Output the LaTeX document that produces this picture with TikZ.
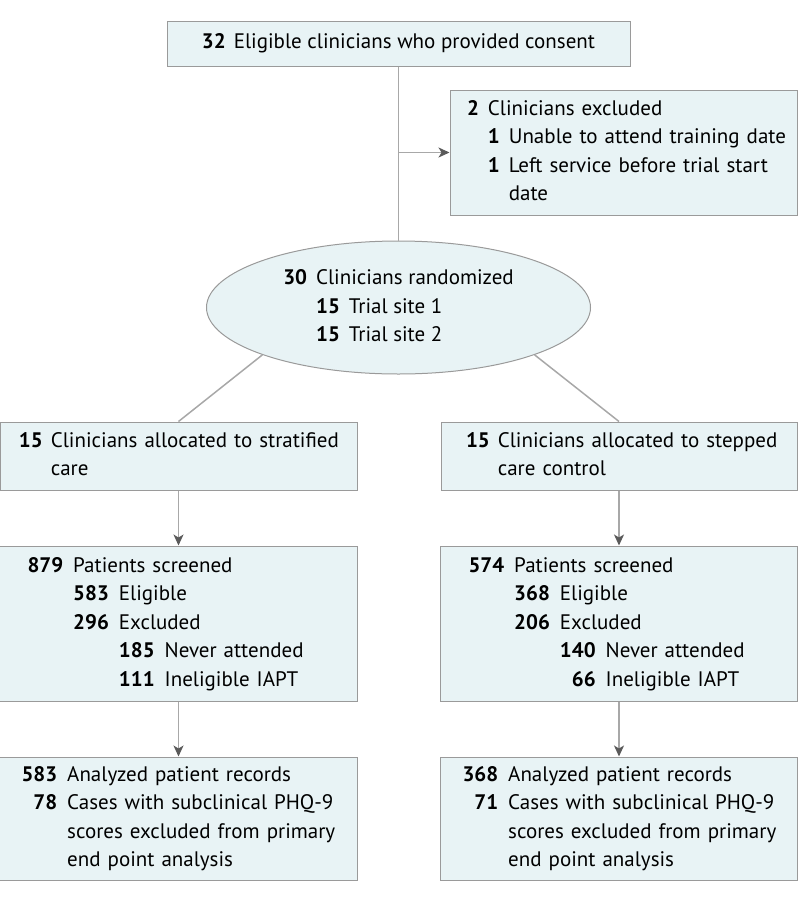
\documentclass[tikz,border=0pt]{standalone}
\usepackage{fontspec}
\setmainfont{PT Sans}
\usetikzlibrary{arrows.meta, positioning, shapes.geometric}

\definecolor{boxfill}{HTML}{E8F3F5}
\definecolor{boxline}{HTML}{9A9A9A}
\definecolor{linkgray}{HTML}{A8A8A8}
\definecolor{tipgray}{HTML}{5A5A5A}

\begin{document}
\begin{tikzpicture}[
    x=1pt, y=-1pt,
    font=\fontsize{21}{28.5}\selectfont,
    every node/.style={draw=boxline, fill=boxfill, line width=1pt},
    box/.style={rectangle, align=left, inner ysep=0pt},
    link/.style={draw=linkgray, line width=1.5pt},
    arrow/.style={link, -{Stealth[length=11pt, width=10pt, inset=3pt, color=tipgray]}}
]
\useasboundingbox (0,0) rectangle (798,900);

% Nodes
\node[box, minimum width=463pt, minimum height=45pt, align=center] (consent) at (398.5,43.5)
    {\textbf{32}\hspace{8pt}Eligible clinicians who provided consent};
\node[box, text width=313pt, inner xsep=17pt, minimum height=125pt] (excluded) at (623.5,152.5)
    {\begin{tabular}{@{}r@{\hspace{9pt}}r@{\hspace{9pt}}l@{}}
    \textbf{2} & \multicolumn{2}{@{}l@{}}{Clinicians excluded}\\
     & \textbf{1} & Unable to attend training date\\
     & \textbf{1} & Left service before trial start\\
     & & date
    \end{tabular}};
\node[ellipse, minimum width=384pt, minimum height=133pt, inner sep=0pt, below=174pt of consent] (rand)
    {\begin{tabular}{@{}r@{\hspace{9pt}}r@{\hspace{9pt}}l@{}}
    \textbf{30} & \multicolumn{2}{@{}l@{}}{Clinicians randomized}\\
     & \textbf{15} & Trial site 1\\
     & \textbf{15} & Trial site 2
    \end{tabular}};
\node[box, text width=319pt, inner xsep=19pt, minimum height=68pt] (strat) at (178.5,456)
    {\begin{tabular}{@{}r@{\hspace{8pt}}l@{}}
    \textbf{15} & Clinicians allocated to stratified\\
     & care
    \end{tabular}};
\node[box, text width=306pt, inner xsep=25pt, minimum height=68pt] (stepped) at (619,456)
    {\begin{tabular}{@{}r@{\hspace{8pt}}l@{}}
    \textbf{15} & Clinicians allocated to stepped\\
     & care control
    \end{tabular}};
\node[box, text width=302pt, inner xsep=28pt, minimum height=155pt, below=55pt of strat] (screenA)
    {\begin{tabular}{@{}r@{\hspace{10pt}}r@{\hspace{10pt}}r@{\hspace{10pt}}l@{}}
    \textbf{879} & \multicolumn{3}{@{}l@{}}{Patients screened}\\
     & \textbf{583} & \multicolumn{2}{@{}l@{}}{Eligible}\\
     & \textbf{296} & \multicolumn{2}{@{}l@{}}{Excluded}\\
     & & \textbf{185} & Never attended\\
     & & \textbf{111} & Ineligible IAPT
    \end{tabular}};
\node[box, text width=301pt, inner xsep=28pt, minimum height=155pt, below=55pt of stepped] (screenB)
    {\begin{tabular}{@{}r@{\hspace{10pt}}r@{\hspace{10pt}}r@{\hspace{10pt}}l@{}}
    \textbf{574} & \multicolumn{3}{@{}l@{}}{Patients screened}\\
     & \textbf{368} & \multicolumn{2}{@{}l@{}}{Eligible}\\
     & \textbf{206} & \multicolumn{2}{@{}l@{}}{Excluded}\\
     & & \textbf{140} & Never attended\\
     & & \textbf{66} & Ineligible IAPT
    \end{tabular}};
\node[box, text width=314pt, inner xsep=22pt, minimum height=123pt, below=55pt of screenA] (analA)
    {\begin{tabular}{@{}r@{\hspace{10pt}}l@{}}
    \textbf{583} & Analyzed patient records\\
    \textbf{78} & Cases with subclinical PHQ-9\\
     & scores excluded from primary\\
     & end point analysis
    \end{tabular}};
\node[box, text width=313pt, inner xsep=22pt, minimum height=123pt, below=55pt of screenB] (analB)
    {\begin{tabular}{@{}r@{\hspace{10pt}}l@{}}
    \textbf{368} & Analyzed patient records\\
    \textbf{71} & Cases with subclinical PHQ-9\\
     & scores excluded from primary\\
     & end point analysis
    \end{tabular}};

% Connectors
\draw[link] (consent) -- (rand);
\draw[arrow] (consent.south |- excluded.west) -- (excluded.west);
\draw[link] (rand.south west) -- (strat.north);
\draw[link] (rand.south east) -- (stepped.north);
\draw[arrow] (strat) -- (screenA);
\draw[arrow] (stepped) -- (screenB);
\draw[arrow] (screenA) -- (analA);
\draw[arrow] (screenB) -- (analB);

\end{tikzpicture}
\end{document}
